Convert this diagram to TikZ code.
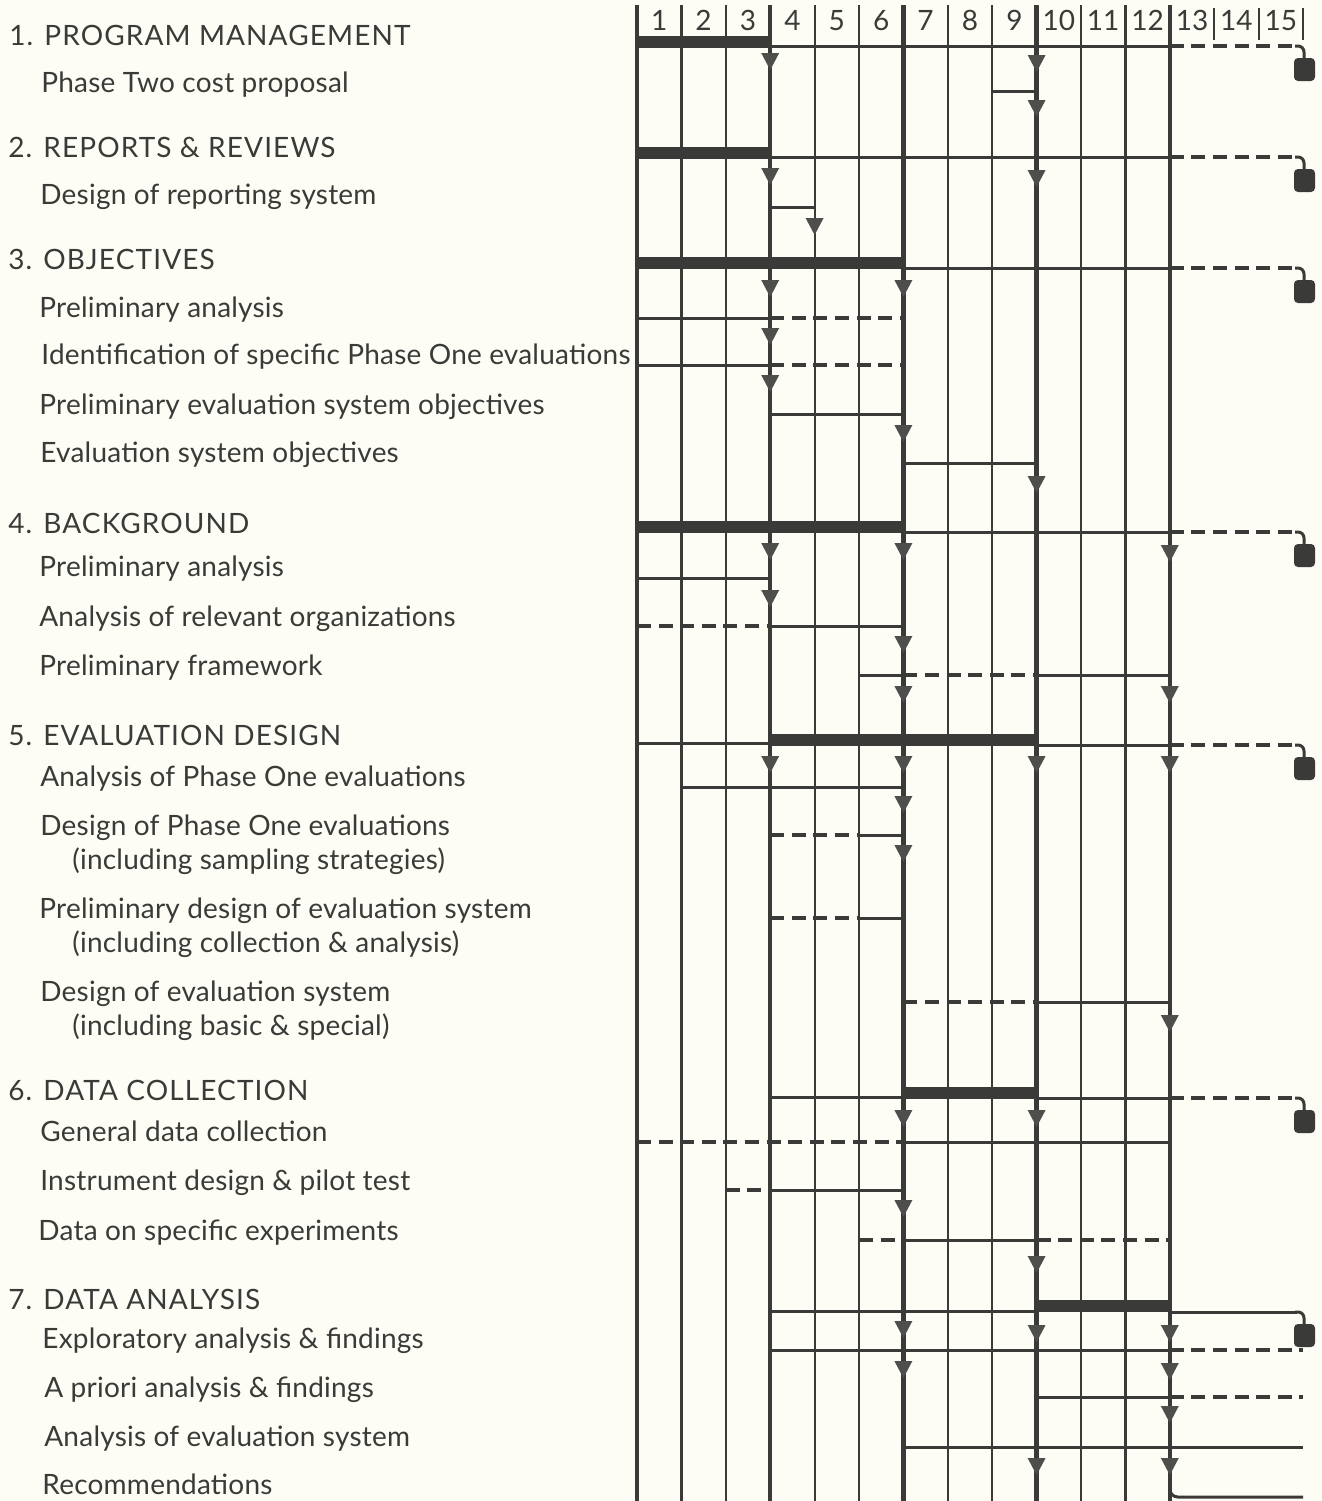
\documentclass[tikz,border=0pt]{standalone}
\usepackage{fontspec}
\setmainfont{Lato}
\usetikzlibrary{positioning}
\definecolor{Ink}{HTML}{3A3A38}
\definecolor{Paper}{HTML}{FDFDF6}
\definecolor{Tip}{HTML}{4E4E4C}
\newcommand{\colx}[1]{637+44.4*#1}
\newcommand{\seg}[4]{\draw[#1] ({\colx{#3}},#2) -- ({\colx{#4}},#2);}
\newcommand{\dnarrow}[2]{\fill[Tip] ({\colx{#1}-9},#2-17) -- ({\colx{#1}+9},#2-17) -- ({\colx{#1}},#2) -- cycle;}
\newcommand{\milestone}[2]{\draw[#2] ({\colx{12}},#1) -- (1297,#1);
  \draw[task,rounded corners=3pt] (1295,#1) -- (1304,#1) -- (1304,#1+13);
  \fill[Ink,rounded corners=2pt] (1294,#1+12) rectangle (1315,#1+35);}
\tikzset{grid/.style={draw=Ink,line width=1.1pt},
  gridthick/.style={draw=Ink,line width=2.2pt},
  task/.style={draw=Ink,line width=1.5pt},
  slack/.style={task,line width=1.7pt,dash pattern=on 7pt off 3.8pt},
  bar/.style={draw=Ink,line width=6.3pt},
  head/.style={anchor=base west,inner sep=0pt,text=Ink,font=\fontsize{14}{16}\selectfont\addfontfeature{LetterSpace=4}},
  item/.style={anchor=base west,inner sep=0pt,text=Ink,font=\fontsize{14}{16}\selectfont\addfontfeature{LetterSpace=0.8}},
  colnum/.style={anchor=base,inner sep=0pt,text=Ink,font=\fontsize{14}{16}\selectfont}}

\begin{document}
\begin{tikzpicture}[x=0.5pt,y=-0.5pt]
  \fill[Paper] (0,0) rectangle (1322,1501);
  \useasboundingbox (0,0) rectangle (1322,1501);

  % grid and column numbers
  \foreach \k in {1,2,4,5,7,8,10,11}
    \draw[grid] ({\colx{\k}},5) -- ({\colx{\k}},1501);
  \foreach \k in {0,3,6,9,12}
    \draw[gridthick] ({\colx{\k}},5) -- ({\colx{\k}},1501);
  \foreach \k in {13,14,15}
    \draw[grid] ({\colx{\k}},8) -- ({\colx{\k}},40);
  \foreach \k in {1,...,15}
    \node[colnum] (n\k) at ({\colx{\k}-22.2},30) {\k};

  % 1
  \seg{bar}{42}{0}{3}
  \seg{task}{46}{3}{12}
  \milestone{46}{slack}
  \seg{task}{91}{8}{9}
  \dnarrow{3}{70} \dnarrow{9}{72} \dnarrow{9}{117}

  % 2
  \seg{bar}{153}{0}{3}
  \seg{task}{157}{3}{12}
  \milestone{157}{slack}
  \seg{task}{207}{3}{4}
  \dnarrow{3}{185} \dnarrow{9}{187} \dnarrow{4}{235}

  % 3
  \seg{bar}{263}{0}{6}
  \seg{task}{268}{6}{12}
  \milestone{268}{slack}
  \seg{task}{318}{0}{3} \seg{slack}{318}{3}{6}
  \seg{task}{365}{0}{3} \seg{slack}{365}{3}{6}
  \seg{task}{414}{3}{6}
  \seg{task}{463}{6}{9}
  \dnarrow{3}{297} \dnarrow{6}{297} \dnarrow{3}{345} \dnarrow{3}{392}
  \dnarrow{6}{442} \dnarrow{9}{493}

  % 4
  \seg{bar}{527}{0}{6}
  \seg{task}{532}{6}{12}
  \milestone{532}{slack}
  \seg{task}{578}{0}{3}
  \seg{slack}{626}{0}{3} \seg{task}{626}{3}{6}
  \seg{task}{675}{5}{6} \seg{slack}{675}{6}{9} \seg{task}{675}{9}{12}
  \dnarrow{3}{560} \dnarrow{6}{560} \dnarrow{12}{562} \dnarrow{3}{607}
  \dnarrow{6}{653} \dnarrow{6}{703} \dnarrow{12}{703}

  % 5
  \seg{task}{743}{0}{3}
  \seg{bar}{740}{3}{9}
  \seg{task}{745}{9}{12}
  \milestone{745}{slack}
  \seg{task}{787}{1}{6}
  \seg{slack}{835}{3}{5} \seg{task}{835}{5}{6}
  \seg{slack}{918}{3}{5} \seg{task}{918}{5}{6}
  \seg{slack}{1002}{6}{9} \seg{task}{1002}{9}{12}
  \dnarrow{3}{773} \dnarrow{6}{773} \dnarrow{9}{773} \dnarrow{12}{773}
  \dnarrow{6}{813} \dnarrow{6}{862} \dnarrow{12}{1032}

  % 6
  \seg{task}{1097}{3}{6}
  \seg{bar}{1093}{6}{9}
  \seg{task}{1098}{9}{12}
  \milestone{1098}{slack}
  \seg{slack}{1142}{0}{6} \seg{task}{1142}{6}{12}
  \seg{slack}{1190}{2}{3} \seg{task}{1190}{3}{6}
  \seg{slack}{1240}{5}{6} \seg{task}{1240}{6}{9} \seg{slack}{1240}{9}{12}
  \dnarrow{6}{1127} \dnarrow{9}{1127} \dnarrow{6}{1217} \dnarrow{9}{1273}

  % 7
  \seg{task}{1311}{3}{9}
  \seg{bar}{1306}{9}{12}
  \milestone{1312}{task}
  \seg{task}{1350}{3}{12} \seg{slack}{1350}{12}{15}
  \seg{task}{1397}{9}{12} \seg{slack}{1397}{12}{15}
  \seg{task}{1447}{6}{15}
  \draw[task,rounded corners=4pt] ({\colx{12}},1475) -- ({\colx{12}},1497) -- (1303,1497);
  \dnarrow{6}{1338} \dnarrow{9}{1342} \dnarrow{12}{1342}
  \dnarrow{6}{1378} \dnarrow{12}{1380} \dnarrow{12}{1423}
  \dnarrow{9}{1475} \dnarrow{12}{1475}

  % labels
  \node[head] (s1) at (9,45) {1. PROGRAM MANAGEMENT};
  \node[item] (s1a) at (41,92) {Phase Two cost proposal};
  \node[head] (s2) at (8,157) {2. REPORTS \& REVIEWS};
  \node[item] (s2a) at (40,204) {Design of reporting system};
  \node[head] (s3) at (8,269) {3. OBJECTIVES};
  \node[item] (s3a) at (39,317) {Preliminary analysis};
  \node[item] (s3b) at (41,364) {Identification of specific Phase One evaluations};
  \node[item] (s3c) at (39,414) {Preliminary evaluation system objectives};
  \node[item] (s3d) at (40,462) {Evaluation system objectives};
  \node[head] (s4) at (8,533) {4. BACKGROUND};
  \node[item] (s4a) at (39,576) {Preliminary analysis};
  \node[item] (s4b) at (39,626) {Analysis of relevant organizations};
  \node[item] (s4c) at (39,675) {Preliminary framework};
  \node[head] (s5) at (8,745) {5. EVALUATION DESIGN};
  \node[item] (s5a) at (40,786) {Analysis of Phase One evaluations};
  \node[item] (s5b) at (40,835) {Design of Phase One evaluations};
  \node[item] (s5b2) at (72,869) {(including sampling strategies)};
  \node[item] (s5c) at (39,918) {Preliminary design of evaluation system};
  \node[item] (s5c2) at (72,952) {(including collection \& analysis)};
  \node[item] (s5d) at (40,1001) {Design of evaluation system};
  \node[item] (s5d2) at (72,1035) {(including basic \& special)};
  \node[head] (s6) at (8,1100) {6. DATA COLLECTION};
  \node[item] (s6a) at (40,1141) {General data collection};
  \node[item] (s6b) at (40,1190) {Instrument design \& pilot test};
  \node[item] (s6c) at (38,1240) {Data on specific experiments};
  \node[head] (s7) at (8,1309) {7. DATA ANALYSIS};
  \node[item] (s7a) at (42,1348) {Exploratory analysis \& findings};
  \node[item] (s7b) at (44,1397) {A priori analysis \& findings};
  \node[item] (s7c) at (44,1446) {Analysis of evaluation system};
  \node[item] (s7d) at (42,1494) {Recommendations};
\end{tikzpicture}
\end{document}
